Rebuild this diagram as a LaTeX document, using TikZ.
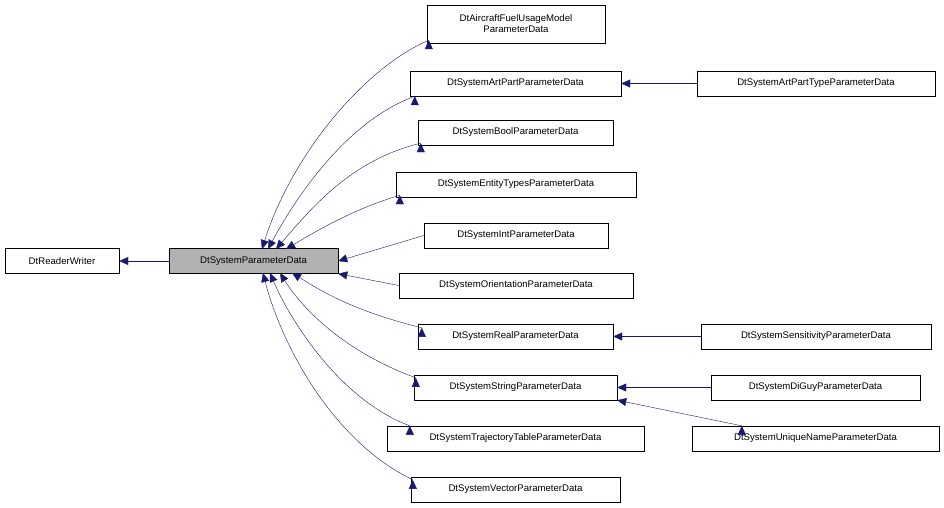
\documentclass[tikz,border=0pt]{standalone}
\usepackage{fontspec}
\setmainfont{Liberation Sans}
\usetikzlibrary{arrows.meta}
\definecolor{edge}{HTML}{191970}
\begin{document}
\begin{tikzpicture}[x=1pt,y=-1pt,
  box/.style={draw=black,fill=white,minimum height=25pt,inner sep=1pt,font=\fontsize{9.6}{11}\selectfont,align=center},
  inh/.style={draw=edge,-{Triangle[length=9pt,width=8pt,fill=edge]}}]
\useasboundingbox (0,0) rectangle (944,508);
\node[box,minimum width=114pt] (rw) at (62,261) {DtReaderWriter};
\node[box,minimum width=169pt,fill=black!30] (p) at (253.5,261) {DtSystemParameterData};
\node[box,minimum width=178pt,minimum height=38pt] (a) at (516,24) {DtAircraftFuelUsageModel\\ParameterData};
\node[box,minimum width=211pt] (ap) at (515.5,83.5) {DtSystemArtPartParameterData};
\node[box,minimum width=238pt] (apt) at (816,83.5) {DtSystemArtPartTypeParameterData};
\node[box,minimum width=195pt] (b) at (515.5,132.5) {DtSystemBoolParameterData};
\node[box,minimum width=240pt] (e) at (516,184.5) {DtSystemEntityTypesParameterData};
\node[box,minimum width=184pt] (i) at (516,235.5) {DtSystemIntParameterData};
\node[box,minimum width=234pt] (o) at (516,285.5) {DtSystemOrientationParameterData};
\node[box,minimum width=195pt] (r) at (515.5,336.5) {DtSystemRealParameterData};
\node[box,minimum width=230pt] (sen) at (816,336.5) {DtSystemSensitivityParameterData};
\node[box,minimum width=203pt] (s) at (515.5,387.5) {DtSystemStringParameterData};
\node[box,minimum width=209pt] (dg) at (815.5,387.5) {DtSystemDiGuyParameterData};
\node[box,minimum width=247pt] (un) at (815.5,438.5) {DtSystemUniqueNameParameterData};
\node[box,minimum width=257pt] (t) at (515.5,438.5) {DtSystemTrajectoryTableParameterData};
\node[box,minimum width=209pt] (v) at (515.5,489.5) {DtSystemVectorParameterData};
\draw[inh] (p) -- (rw);
\draw[inh] (a.south west) ++(2,-3) coordinate (a1);
\draw[inh] (a1) .. controls (360,70) and (290,160) .. (262,249);
\draw[inh] (ap.south west) ++(5,0) coordinate (ap1);
\draw[inh] (ap1) .. controls (350,120) and (300,190) .. (268,249);
\draw[inh] (b.south west) ++(3,-2) coordinate (b1);
\draw[inh] (b1) .. controls (350,160) and (310,210) .. (276,249);
\draw[inh] (e.south west) ++(4,-2) coordinate (e1);
\draw[inh] (e1) .. controls (350,210) and (310,235) .. (286,249);
\draw[inh] (i.west) -- (p.east);
\draw[inh] (o.west) -- (p.south east);
\draw[inh] (r.north west) ++(4,4) coordinate (r1);
\draw[inh] (r1) .. controls (350,310) and (320,290) .. (292,273);
\draw[inh] (s.north west) ++(2,3) coordinate (s1);
\draw[inh] (s1) .. controls (340,350) and (300,305) .. (280,273);
\draw[inh] (t.north west) ++(23,0) coordinate (t1);
\draw[inh] (t1) .. controls (340,400) and (290,320) .. (270,273);
\draw[inh] (v.north west) ++(2,3) coordinate (v1);
\draw[inh] (v1) .. controls (330,440) and (280,340) .. (263,273);
\draw[inh] (apt) -- (ap);
\draw[inh] (sen) -- (r);
\draw[inh] (dg) -- (s);
\draw[inh] (un.north west) ++(50,0) coordinate (u1);
\draw[inh] (u1) -- (s.south east);
\end{tikzpicture}
\end{document}
